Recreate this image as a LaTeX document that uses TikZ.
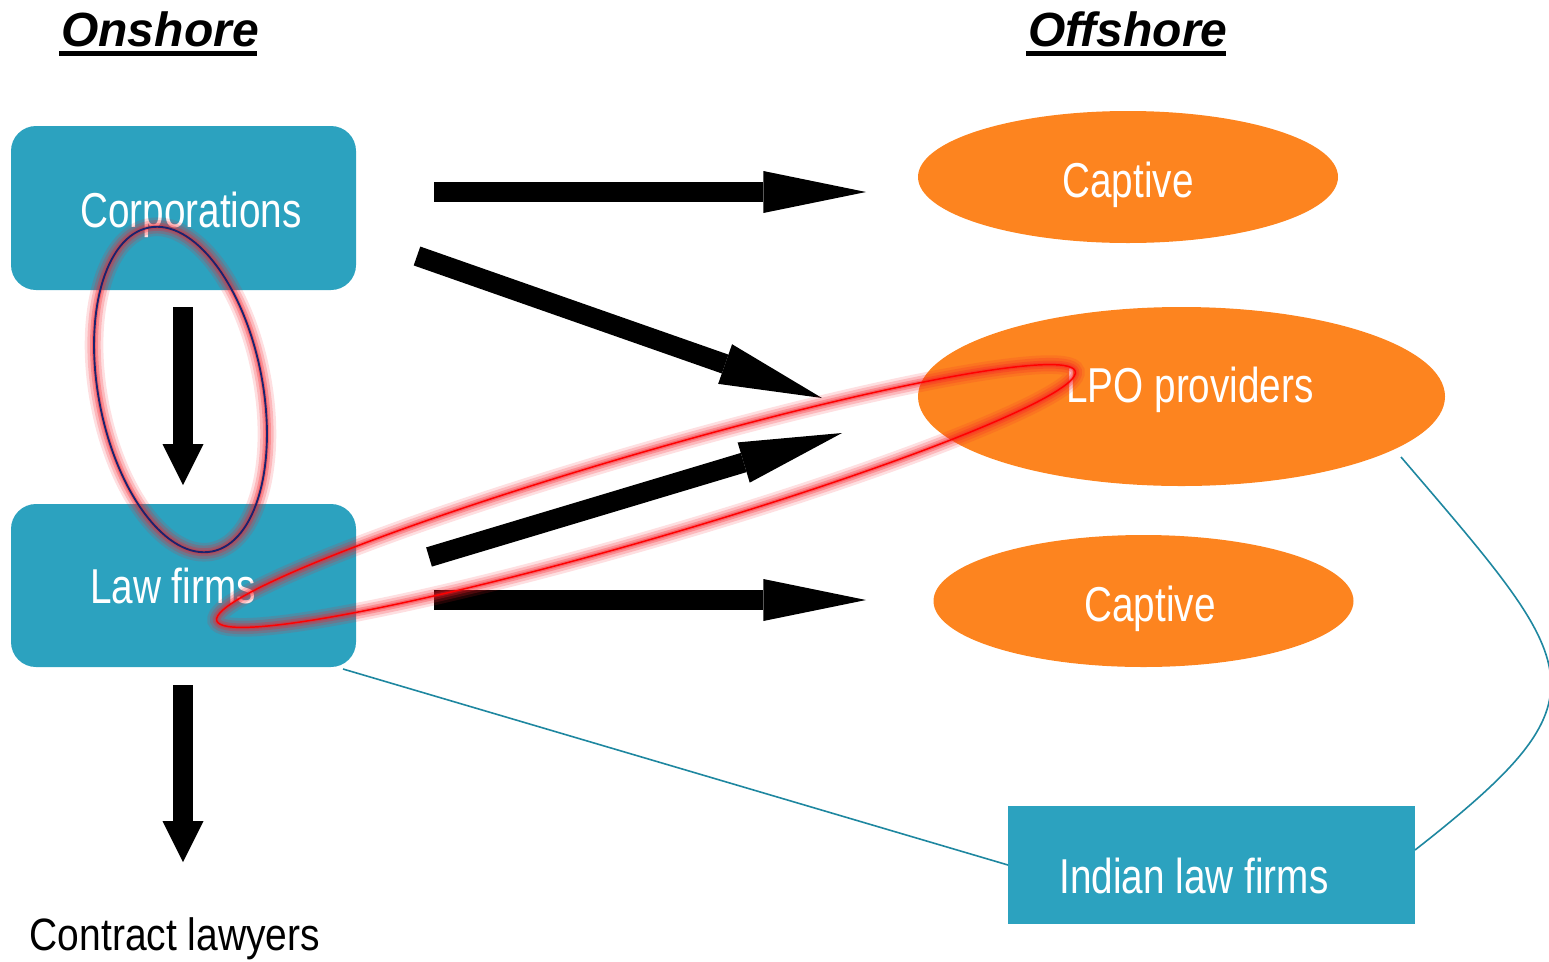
\documentclass[tikz,border=0pt]{standalone}
\usepackage{fontspec}
\setmainfont{Liberation Sans}
\newfontfamily\boxfont[FakeStretch=0.79]{Liberation Sans}
\newfontfamily\plainfont[FakeStretch=0.86]{Liberation Sans}
\usetikzlibrary{arrows.meta,shapes.geometric}
\definecolor{boxblue}{RGB}{44,162,191}
\definecolor{ovalorange}{RGB}{253,132,31}
\definecolor{conncol}{RGB}{30,135,160}
\definecolor{navyline}{RGB}{26,35,110}
\definecolor{glowred}{RGB}{245,30,40}
\begin{document}
\begin{tikzpicture}[x=0.75pt,y=-0.75pt,
  head/.style={font=\bfseries\itshape\fontsize{36}{40}\selectfont, inner sep=0pt, anchor=base},
  uline/.style={line width=3.75pt},
  bluebox/.style={fill=boxblue, draw=none, rounded corners=18.75pt, minimum width=258.75pt, inner sep=0pt, outer sep=0pt},
  sqbox/.style={fill=boxblue, draw=none, minimum width=305.25pt, minimum height=88.5pt, inner sep=0pt, outer sep=0pt},
  oval/.style={ellipse, fill=ovalorange, draw=none, inner sep=0pt, outer sep=0pt},
  boxtxt/.style={text=white, font=\boxfont\fontsize{36.75}{40}\selectfont, inner sep=0pt, anchor=base},
  plaintxt/.style={text=black, font=\plainfont\fontsize{34}{38}\selectfont, inner sep=0pt, anchor=base},
  harrow/.style={line width=15pt, -{Triangle[length=77pt,width=31.5pt,line width=0pt]}},
  varrow/.style={line width=15pt, -{Triangle[length=30.75pt,width=30.75pt,line width=0pt]}},
  conn/.style={draw=conncol, line width=1.2pt},
  glow/.style={preaction={draw=glowred, draw opacity=0.14, line width=14pt},
               preaction={draw=glowred, draw opacity=0.20, line width=10pt},
               preaction={draw=glowred, draw opacity=0.28, line width=6pt},
               preaction={draw=glowred, draw opacity=0.35, line width=3pt}}
]
\useasboundingbox (0,0) rectangle (1549,961);

% headings
\node[head] (onshore) at (160,46) {Onshore};
\draw[uline] (59,53.2) -- (257,53.2);
\node[head] (offshore) at (1128,46) {Offshore};
\draw[uline] (1026,53.2) -- (1226,53.2);

% onshore boxes
\node[bluebox, minimum height=123pt] (corp) at (183.5,208) {};
\node[bluebox, minimum height=122.25pt] (law) at (183.5,585.5) {};

% offshore shapes
\node[oval, minimum width=315pt, minimum height=99pt] (cap1) at (1128,177) {};
\node[oval, minimum width=395.25pt, minimum height=134.25pt] (lpo) at (1181.5,396.5) {};
\node[oval, minimum width=315pt, minimum height=99pt] (cap2) at (1143.5,601) {};
\node[sqbox] (indian) at (1211.5,865) {};

% thin connectors
\coordinate (lpoc) at (1401,457);
\draw[conn] ([xshift=-9.75pt,yshift=-1.5pt]law.south east) -- (indian.west);
\draw[conn] (lpoc) .. controls (1583,670) and (1613,695) .. ([yshift=11.25pt]indian.east);

% texts
\node[boxtxt] (corptxt) at (191,227) {Corporations};
\node[boxtxt] (lawtxt) at (173,603) {Law firms};
\node[boxtxt] (cap1txt) at (1128,197) {Captive};
\node[boxtxt] (lpotxt) at (1190,402) {LPO providers};
\node[boxtxt] (cap2txt) at (1150,621) {Captive};
\node[boxtxt] (indiantxt) at (1194,893) {Indian law firms};
\node[plaintxt] (contract) at (175,950) {Contract lawyers};

% block arrows
\coordinate (a1s) at (434,192);  \coordinate (a1e) at (866,192);
\coordinate (a2s) at (417,256);  \coordinate (a2e) at (822,398);
\coordinate (a3s) at (429,557);  \coordinate (a3e) at (842,433);
\coordinate (a4s) at (434,600);  \coordinate (a4e) at (866,600);
\coordinate (a5s) at (183,307);  \coordinate (a5e) at (183,485);
\coordinate (a6s) at (183,685);  \coordinate (a6e) at (183,862);
\draw[harrow] (a1s) -- (a1e);
\draw[harrow] (a2s) -- (a2e);
\draw[harrow] (a3s) -- (a3e);
\draw[harrow] (a4s) -- (a4e);
\draw[varrow] (a5s) -- (a5e);
\draw[varrow] (a6s) -- (a6e);

% highlight loops
\draw[glow, draw=navyline, line width=1.4pt, rotate around={11:(180.5,389.5)}]
  (180.5,389.5) ellipse [x radius=61.5pt, y radius=123.75pt];
\draw[glow, draw=red, line width=1.1pt, rotate around={16.2:(646,496)}]
  (646,496) ellipse [x radius=335.25pt, y radius=32.25pt];
\end{tikzpicture}
\end{document}
